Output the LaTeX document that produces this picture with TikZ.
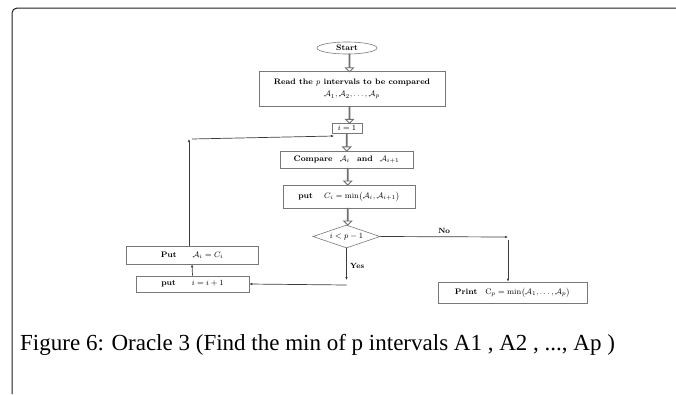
\documentclass[tikz,border=0pt]{standalone}
\usepackage{amsmath}
\usepackage{amssymb}
\usepackage{fontspec}
\newfontfamily\capfont{Liberation Serif}
\usetikzlibrary{arrows.meta,positioning,calc,shapes.geometric,shapes.arrows}
\definecolor{boxborder}{RGB}{120,120,120}
\definecolor{hollowc}{RGB}{110,110,110}
\definecolor{arrowc}{RGB}{60,60,60}
\definecolor{framec}{RGB}{30,30,30}

\begin{document}
\begin{tikzpicture}[
  x=1pt, y=-1pt,
  font=\fontsize{8}{9.5}\selectfont\bfseries,
  >=Latex,
  box/.style={
    draw=boxborder, line width=0.6pt, align=center,
    inner sep=1pt
  },
  startnode/.style={box, ellipse, minimum width=60, minimum height=12},
  proc/.style={box, rectangle},
  test/.style={box, diamond, aspect=2.9, inner sep=0pt},
  hollow/.style={single arrow, draw=hollowc, fill=white, line width=0.9pt,
    shape border rotate=270, minimum width=8, single arrow head extend=3.5,
    single arrow head indent=0, inner sep=0pt},
  arr/.style={-{Latex[length=3pt,width=2.6pt]}, line width=0.7pt, color=arrowc},
  lab/.style={font=\fontsize{7.5}{8}\selectfont\bfseries, text=black}
]
\useasboundingbox (0,0) rectangle (676,394);

% ---- Frame and caption ----
\draw[framec, line width=1pt, rounded corners=5pt] (12,394) -- (12,8) -- (676,8);
\node[anchor=base west, inner sep=0pt, font=\capfont\fontsize{23}{27}\selectfont] (caption) at (20,350)
  {Figure 6: Oracle 3 (Find the min of p intervals A1 , A2 , ..., Ap )};

% ---- Main column ----
\node[startnode] (start) at (347,48) {Start};
\node[proc, minimum width=186, minimum height=35] (read) at (352,89) {%
  Read the $p$ intervals to be compared\\[3pt]
  $\mathcal{A}_1, \mathcal{A}_2, \ldots, \mathcal{A}_p$};
\node[proc, minimum width=30, minimum height=10] (init) at (347,128) {$i=1$};
\node[proc, minimum width=133, minimum height=17] (cmp) at (346.5,159.5) {%
  Compare\enspace\ $\mathcal{A}_i$\enspace\ and\enspace\ $\mathcal{A}_{i+1}$};
\node[proc, minimum width=132, minimum height=23] (putc) at (349,196.5) {%
  put\quad\ $C_i=\min\bigl(\mathcal{A}_i,\mathcal{A}_{i+1}\bigr)$};
\node[test, minimum width=67, minimum height=23] (cond) at (346.5,236.5) {$i<p-1$};

% ---- Branches ----
\node[proc, minimum width=149, minimum height=21] (print) at (512.5,292.5) {%
  Print\quad $\mathrm{C}_p=\min\bigl(\mathcal{A}_1,\ldots,\mathcal{A}_p\bigr)$};
\node[proc, minimum width=113, minimum height=16] (incr) at (192.5,284) {%
  put\qquad $i=i+1$};
\node[proc, minimum width=132, minimum height=18] (puta) at (192,255) {%
  Put\qquad $\mathcal{A}_i=C_i$};

\coordinate (noend) at (508,237);
\coordinate (yesend) at (346.5,280);
\coordinate (yesleft) at (346.5,285);
\coordinate (looptop) at (189,139);
\coordinate (loopend) at (334,136);

% ---- Hollow arrows ----
\foreach \a/\b in {start/read, read/init, init/cmp, cmp/putc, putc/cond}
  \path let \p1=(\a.south), \p2=(\b.north), \n1={veclen(\x2-\x1,\y2-\y1)} in
    node[hollow, minimum height=\n1] at ($(\p1)!0.5!(\p2)$) {};

% ---- Arrows ----
\draw[arr] (cond.east) -- node[lab, above]{No} (noend);
\draw[arr] ([yshift=-3pt]noend) -- (noend |- print.north);
\draw[arr] (cond.south) -- node[lab, right, pos=0.55]{Yes} (yesend);
\draw[arr] (yesleft) -- (incr.east);
\draw[arr] (incr.north) -- (puta.south);
\draw[arr] (puta.north -| looptop) -- (looptop);
\draw[arr] ([xshift=3pt]looptop) -- (loopend);

\end{tikzpicture}
\end{document}
